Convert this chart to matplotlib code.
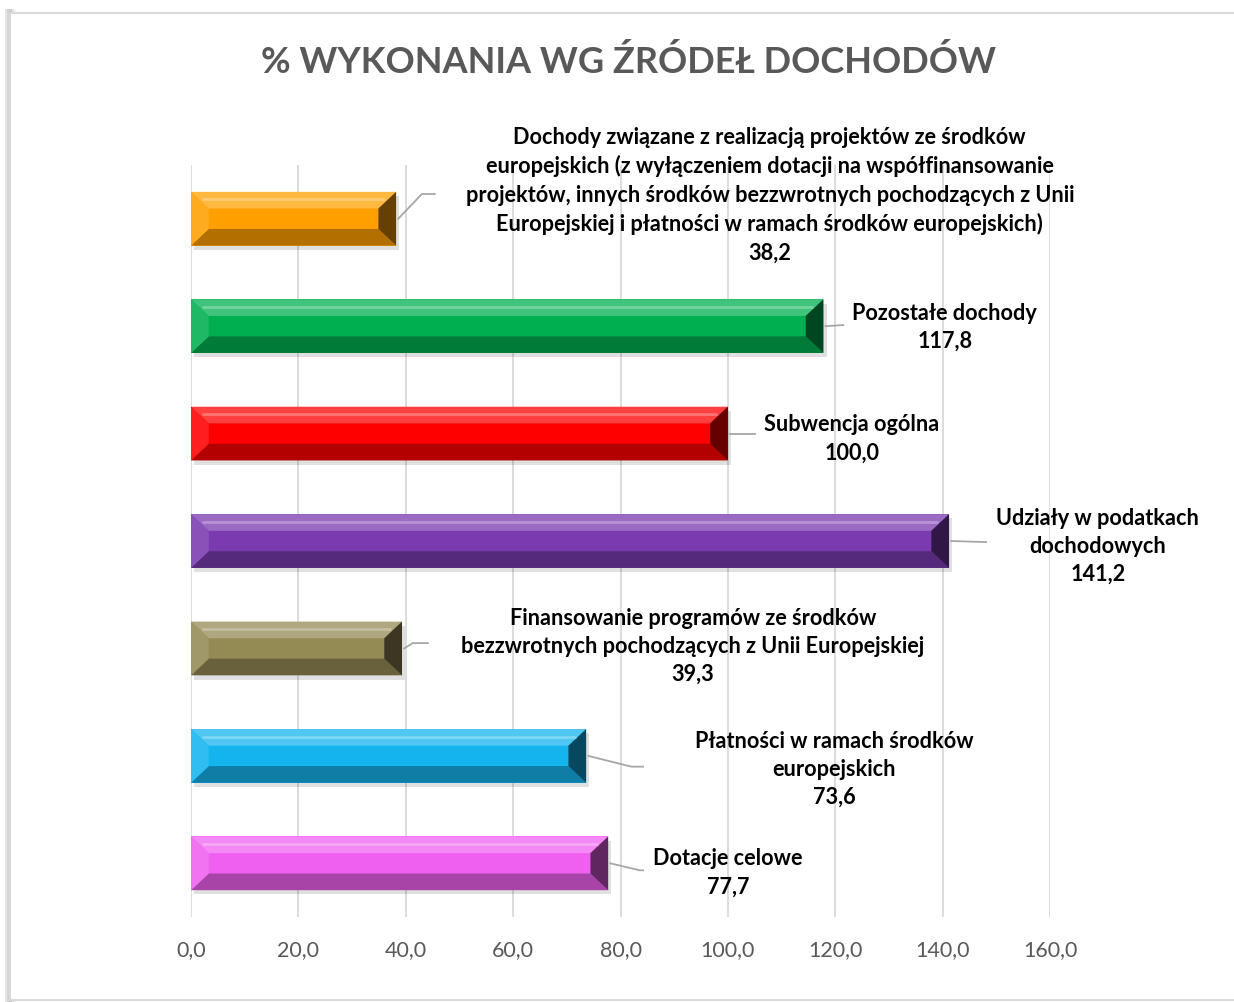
import numpy as np
import matplotlib
matplotlib.use("Agg")
import matplotlib.pyplot as plt
from matplotlib.patches import Polygon, Rectangle
from matplotlib.colors import to_rgb

plt.rcParams['font.family'] = ['Lato', 'DejaVu Sans']

# data (bottom to top)
categories = [
    "Dotacje celowe",
    "Płatności w ramach środków\neuropejskich",
    "Finansowanie programów ze środków\nbezzwrotnych pochodzących z Unii Europejskiej",
    "Udziały w podatkach\ndochodowych",
    "Subwencja ogólna",
    "Pozostałe dochody",
    "Dochody związane z realizacją projektów ze środków\neuropejskich (z wyłączeniem dotacji na współfinansowanie\nprojektów, innych środków bezzwrotnych pochodzących z Unii\nEuropejskiej i płatności w ramach środków europejskich)",
]
values = [77.7, 73.6, 39.3, 141.2, 100.0, 117.8, 38.2]
colors = ["#F060F0", "#14B4EE", "#948A54", "#7A3AB0", "#FF0000", "#00B050", "#FFA000"]
xticks = [0, 20, 40, 60, 80, 100, 120, 140, 160]

# label block centres (data coords) and leader elbows
label_pos = [(100.0, -0.08), (119.8, 0.885), (93.5, 2.03), (168.9, 2.96),
             (123.1, 3.96), (140.4, 5.0), (107.8, 6.23)]
leader_pts = [[(83.6, -0.065), (84.2, -0.065)],
              [(82.0, 0.9), (84.2, 0.9)],
              [(41.3, 2.05), (44.1, 2.05)],
              [(148.1, 2.99), (148.1, 2.99)],
              [(105.0, 4.0), (105.0, 4.0)],
              [(121.5, 5.01), (121.5, 5.01)],
              [(43.0, 6.23), (45.4, 6.23)]]


def mix(c, other, t):
    c = np.array(to_rgb(c))
    return tuple(c * (1 - t) + np.array(other) * t)


fig = plt.figure(figsize=(12.34, 10.03), dpi=100)
ax = fig.add_axes([0.1548, 0.0847, 0.8509 - 0.1548, 0.8345 - 0.0847])
ax.set_zorder(2)

# chart frame with soft shadow
for i, a in enumerate([0.10, 0.07, 0.04]):
    fig.patches.append(Rectangle((0.004 + i * 0.0015, -0.01), 0.006, 1.0,
                                 transform=fig.transFigure, color="#000000",
                                 alpha=a, lw=0, zorder=-3))
fig.patches.append(Rectangle((0.0085, 0.0015), 1.1, 0.985, transform=fig.transFigure,
                             facecolor="white", edgecolor="#D9D9D9", lw=1.5, zorder=-2))

y = np.arange(len(values))
h = 0.25
bx, by = 3.3, 0.155
ax.barh(y, values, height=2 * h, color=colors, zorder=3)
for yc, v, c in zip(y, values, colors):
    # soft drop shadow
    ax.add_patch(Rectangle((0.6, yc - h - 0.04), v, 2 * h, color="#000000", alpha=0.12,
                           lw=0, zorder=2))
    top = [(0, yc + h), (v, yc + h), (v - bx, yc + h - by), (bx, yc + h - by)]
    bot = [(0, yc - h), (v, yc - h), (v - bx, yc - h + by), (bx, yc - h + by)]
    left = [(0, yc - h), (0, yc + h), (bx, yc + h - by), (bx, yc - h + by)]
    right = [(v, yc - h), (v, yc + h), (v - bx, yc + h - by), (v - bx, yc - h + by)]
    ax.add_patch(Polygon(top, closed=True, color=mix(c, (1, 1, 1), 0.25), lw=0, zorder=4))
    ax.add_patch(Polygon(bot, closed=True, color=mix(c, (0, 0, 0), 0.3), lw=0, zorder=4))
    ax.add_patch(Polygon(left, closed=True, color=mix(c, (1, 1, 1), 0.12), lw=0, zorder=4))
    ax.add_patch(Polygon(right, closed=True, color=mix(c, (0, 0, 0), 0.6), lw=0, zorder=4))
    # highlight stripe in the top bevel
    ax.plot([bx * 0.6, v - bx * 0.6], [yc + h - by * 0.45] * 2,
            color=mix(c, (1, 1, 1), 0.45), lw=2, zorder=5, solid_capstyle="butt")

for yc, v, cat, (lx, ly), pts in zip(y, values, categories, label_pos, leader_pts):
    xs = [v + 0.4] + [p[0] for p in pts]
    ys = [yc] + [p[1] for p in pts]
    ax.plot(xs, ys, color="#A6A6A6", lw=1.3, zorder=3)
    ax.text(lx, ly, f"{cat}\n{v:.1f}".replace(".", ","), ha="center", va="center",
            fontsize=15.6, fontweight="bold", color="#000000", linespacing=1.42,
            zorder=6, clip_on=False)

ax.set_xlim(0, 160)
ax.set_ylim(-0.5, len(values) - 0.5)
ax.set_xticks(xticks)
ax.set_xticklabels([f"{t:.1f}".replace(".", ",") for t in xticks])
ax.set_yticks([])
ax.tick_params(axis="x", length=0, labelsize=15.5, labelcolor="#595959", pad=16)
ax.grid(axis="x", color="#D9D9D9", lw=1.3, zorder=0)
for s in ax.spines.values():
    s.set_visible(False)
ax.set_facecolor("none")

fig.text(0.509, 0.938, "% WYKONANIA WG ŹRÓDEŁ DOCHODÓW", ha="center", va="center",
         fontsize=26, fontweight="bold", color="#595959")

fig.savefig("out.png", dpi=100)
